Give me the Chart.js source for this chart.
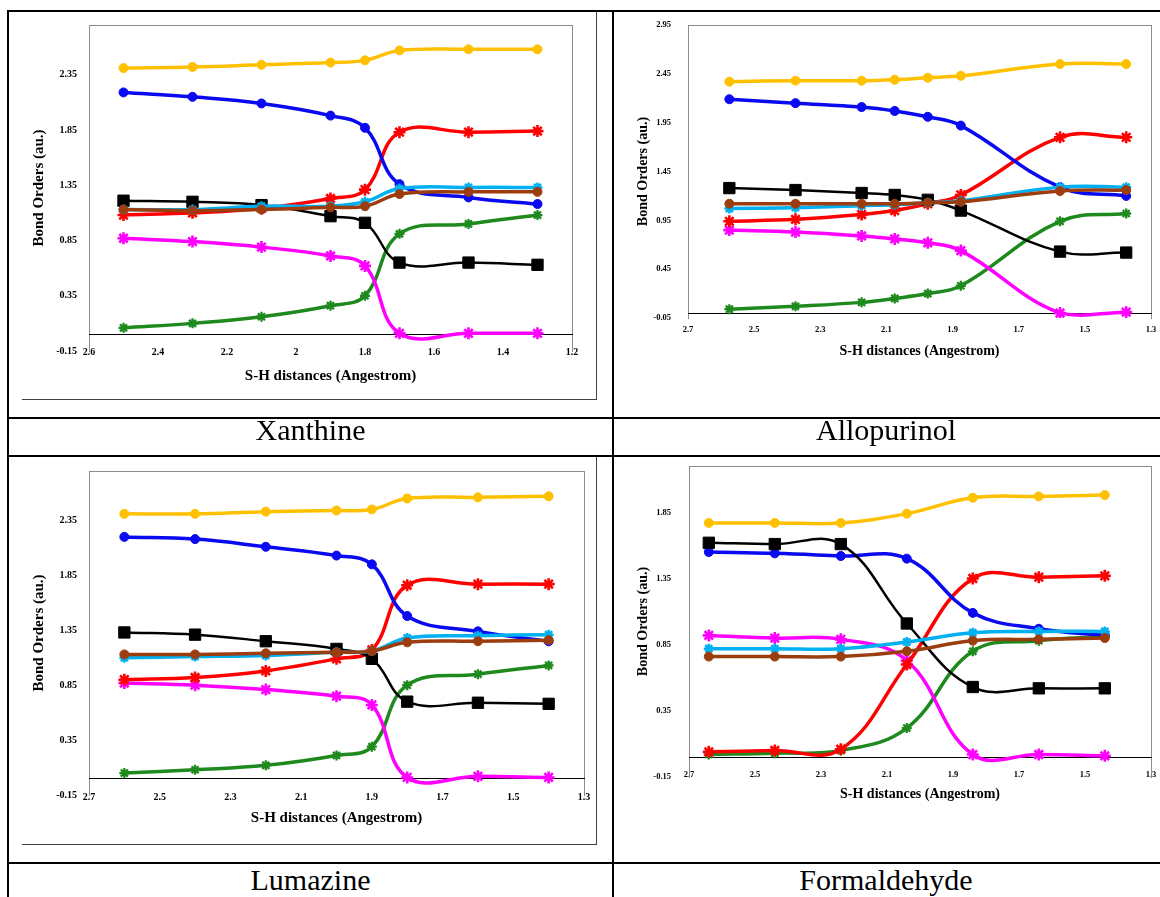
<!DOCTYPE html>
<html>
<head>
<meta charset="utf-8">
<script src="https://cdn.jsdelivr.net/npm/chart.js@4.4.1/dist/chart.umd.min.js"></script>
<style>
  html, body { margin: 0; padding: 0; background: #fff; }
  body { width: 1160px; height: 897px; position: relative; overflow: hidden;
         font-family: 'Liberation Serif', 'Times New Roman', serif; }
  .ln { position: absolute; background: #000; }
  .frame { position: absolute; background: #404040; }
  .cv { position: absolute; }
  .name { position: absolute; font-size: 30px; line-height: 30px; text-align: center;
          color: #000; white-space: nowrap; }
</style>
</head>
<body>
<!-- table rules -->
<div class="ln" style="left:7px;top:10px;width:1153px;height:2px"></div>
<div class="ln" style="left:7px;top:10px;width:2px;height:887px"></div>
<div class="ln" style="left:612px;top:10px;width:2px;height:887px"></div>
<div class="ln" style="left:7px;top:417px;width:1153px;height:2px"></div>
<div class="ln" style="left:7px;top:455px;width:1153px;height:2px"></div>
<div class="ln" style="left:7px;top:862px;width:1153px;height:2px"></div>

<!-- chart-area frames of the left column -->
<div class="frame" style="left:596px;top:12px;width:1px;height:388px"></div>
<div class="frame" style="left:22px;top:399px;width:575px;height:1px"></div>
<div class="frame" style="left:596px;top:457px;width:1px;height:388px"></div>
<div class="frame" style="left:22px;top:844px;width:575px;height:1px"></div>

<canvas id="c1" class="cv" width="601" height="403" style="left:9px;top:13px"></canvas>
<canvas id="c2" class="cv" width="542" height="403" style="left:614px;top:13px"></canvas>
<canvas id="c3" class="cv" width="601" height="403" style="left:9px;top:458px"></canvas>
<canvas id="c4" class="cv" width="542" height="403" style="left:614px;top:458px"></canvas>

<div class="name" style="left:9px;width:603px;top:415px">Xanthine</div>
<div class="name" style="left:614px;width:544px;top:415px">Allopurinol</div>
<div class="name" style="left:9px;width:603px;top:865px">Lumazine</div>
<div class="name" style="left:614px;width:544px;top:865px">Formaldehyde</div>

<script>
// ---- Xanthine ----
const xanX       = [2.5, 2.3, 2.1, 1.9, 1.8, 1.7, 1.5, 1.3];
const xanYellow  = [2.41, 2.42, 2.44, 2.46, 2.48, 2.57, 2.58, 2.58];
const xanBlue    = [2.19, 2.15, 2.09, 1.98, 1.87, 1.36, 1.24, 1.18];
const xanRed     = [1.08, 1.10, 1.14, 1.23, 1.31, 1.83, 1.83, 1.84];
const xanCyan    = [1.13, 1.13, 1.16, 1.16, 1.20, 1.32, 1.33, 1.33];
const xanBrown   = [1.13, 1.12, 1.13, 1.15, 1.16, 1.27, 1.29, 1.29];
const xanBlack   = [1.21, 1.20, 1.17, 1.07, 1.01, 0.65, 0.65, 0.63];
const xanMagenta = [0.87, 0.84, 0.79, 0.71, 0.62, 0.01, 0.01, 0.01];
const xanGreen   = [0.06, 0.10, 0.16, 0.26, 0.35, 0.91, 1.00, 1.08];
const xanXTicks  = [2.6, 2.4, 2.2, 2.0, 1.8, 1.6, 1.4, 1.2];
const xanXLabels = ['2.6', '2.4', '2.2', '2', '1.8', '1.6', '1.4', '1.2'];
const xanYTicks  = [-0.15, 0.35, 0.85, 1.35, 1.85, 2.35];

// ---- Allopurinol ----
const alloX       = [2.575, 2.375, 2.175, 2.075, 1.975, 1.875, 1.575, 1.375];
const alloYellow  = [2.37, 2.38, 2.38, 2.39, 2.41, 2.43, 2.55, 2.55];
const alloBlue    = [2.19, 2.15, 2.11, 2.07, 2.01, 1.92, 1.29, 1.20];
const alloRed     = [0.94, 0.96, 1.01, 1.05, 1.12, 1.21, 1.80, 1.80];
const alloCyan    = [1.07, 1.08, 1.10, 1.11, 1.13, 1.15, 1.29, 1.29];
const alloBrown   = [1.12, 1.12, 1.12, 1.12, 1.13, 1.14, 1.25, 1.26];
const alloBlack   = [1.28, 1.26, 1.23, 1.21, 1.16, 1.05, 0.63, 0.62];
const alloMagenta = [0.85, 0.83, 0.79, 0.76, 0.72, 0.64, 0.00, 0.01];
const alloGreen   = [0.04, 0.07, 0.11, 0.15, 0.20, 0.28, 0.94, 1.02];
const alloXTicks  = [2.7, 2.5, 2.3, 2.1, 1.9, 1.7, 1.5, 1.3];
const alloXLabels = ['2.7', '2.5', '2.3', '2.1', '1.9', '1.7', '1.5', '1.3'];
const alloYTicks  = [-0.05, 0.45, 0.95, 1.45, 1.95, 2.45, 2.95];

// ---- Lumazine ----
const lumX       = [2.6, 2.4, 2.2, 2.0, 1.9, 1.8, 1.6, 1.4];
const lumYellow  = [2.41, 2.41, 2.43, 2.44, 2.45, 2.55, 2.56, 2.57];
const lumBlue    = [2.20, 2.18, 2.11, 2.03, 1.95, 1.48, 1.34, 1.25];
const lumRed     = [0.90, 0.92, 0.98, 1.09, 1.17, 1.76, 1.77, 1.77];
const lumCyan    = [1.10, 1.11, 1.12, 1.15, 1.16, 1.28, 1.30, 1.31];
const lumBrown   = [1.13, 1.13, 1.14, 1.15, 1.16, 1.24, 1.25, 1.26];
const lumBlack   = [1.33, 1.31, 1.25, 1.18, 1.09, 0.70, 0.69, 0.68];
const lumMagenta = [0.87, 0.85, 0.81, 0.75, 0.67, 0.01, 0.02, 0.01];
const lumGreen   = [0.05, 0.08, 0.12, 0.21, 0.29, 0.85, 0.95, 1.03];
const lumXTicks  = [2.7, 2.5, 2.3, 2.1, 1.9, 1.7, 1.5, 1.3];
const lumXLabels = ['2.7', '2.5', '2.3', '2.1', '1.9', '1.7', '1.5', '1.3'];
const lumYTicks  = [-0.15, 0.35, 0.85, 1.35, 1.85, 2.35];

// ---- Formaldehyde ----
const formX       = [2.64, 2.44, 2.24, 2.04, 1.84, 1.64, 1.44];
const formYellow  = [1.77, 1.77, 1.77, 1.84, 1.96, 1.97, 1.98];
const formBlue    = [1.55, 1.54, 1.52, 1.50, 1.09, 0.97, 0.92];
const formRed     = [0.04, 0.05, 0.06, 0.70, 1.35, 1.36, 1.37];
const formCyan    = [0.82, 0.82, 0.82, 0.87, 0.94, 0.95, 0.95];
const formBrown   = [0.76, 0.76, 0.76, 0.80, 0.88, 0.89, 0.90];
const formBlack   = [1.62, 1.61, 1.61, 1.01, 0.53, 0.52, 0.52];
const formMagenta = [0.92, 0.90, 0.89, 0.73, 0.02, 0.02, 0.01];
const formGreen   = [0.02, 0.03, 0.05, 0.22, 0.80, 0.88, 0.91];
const formXTicks  = [2.7, 2.5, 2.3, 2.1, 1.9, 1.7, 1.5, 1.3];
const formXLabels = ['2.7', '2.5', '2.3', '2.1', '1.9', '1.7', '1.5', '1.3'];
const formYTicks  = [-0.15, 0.35, 0.85, 1.35, 1.85];

const FONT = "'Liberation Serif', 'Times New Roman', serif";

// line and marker look of each bond series
const STYLE = {
  brown:   { color: '#9C3D10', shape: 'circle', r: 4.5, bw: 1,   lw: 3.5 },
  cyan:    { color: '#00B0F0', shape: 'star',   r: 5,   bw: 2.5, lw: 3.5 },
  black:   { color: '#000000', shape: 'rect',   r: 8,   bw: 1,   lw: 2.5 },
  blue:    { color: '#0A0AF0', shape: 'circle', r: 4.5, bw: 1,   lw: 3.5 },
  red:     { color: '#FF0000', shape: 'star',   r: 6,   bw: 2.6, lw: 3.5 },
  magenta: { color: '#FF00FF', shape: 'star',   r: 6,   bw: 2.6, lw: 3.5 },
  green:   { color: '#1E8A1E', shape: 'star',   r: 5,   bw: 2.3, lw: 3.5 },
  yellow:  { color: '#FFC000', shape: 'circle', r: 4.5, bw: 1,   lw: 3.5 }
};
// first entry is drawn on top
const DRAW_ORDER = ['brown', 'cyan', 'black', 'blue', 'red', 'magenta', 'green', 'yellow'];

const panels = [
  { id: 'c1', xs: xanX,
    series: { yellow: xanYellow, blue: xanBlue, red: xanRed, cyan: xanCyan, brown: xanBrown,
              black: xanBlack, magenta: xanMagenta, green: xanGreen },
    xMin: 1.2, xMax: 2.6, yMin: -0.15, yMax: 2.8,
    xTicks: xanXTicks, xLabels: xanXLabels, yTicks: xanYTicks,
    geom: { pad: { top: 12, right: 38, bottom: 31, left: 0 }, yW: 80, xH: 34,
            yTickPad: 12, xTickPad: -5, yTitlePad: 21, tick: 10, title: 15 } },
  { id: 'c2', xs: alloX,
    series: { yellow: alloYellow, blue: alloBlue, red: alloRed, cyan: alloCyan, brown: alloBrown,
              black: alloBlack, magenta: alloMagenta, green: alloGreen },
    xMin: 1.3, xMax: 2.7, yMin: -0.05, yMax: 2.95,
    xTicks: alloXTicks, xLabels: alloXLabels, yTicks: alloYTicks,
    geom: { pad: { top: 12, right: 5, bottom: 56, left: 0 }, yW: 74, xH: 42,
            yTickPad: 17, xTickPad: 7, yTitlePad: 21, tick: 8.5, title: 14 } },
  { id: 'c3', xs: lumX,
    series: { yellow: lumYellow, blue: lumBlue, red: lumRed, cyan: lumCyan, brown: lumBrown,
              black: lumBlack, magenta: lumMagenta, green: lumGreen },
    xMin: 1.3, xMax: 2.7, yMin: -0.15, yMax: 2.8,
    xTicks: lumXTicks, xLabels: lumXLabels, yTicks: lumYTicks,
    geom: { pad: { top: 13, right: 26, bottom: 34, left: 0 }, yW: 80, xH: 32,
            yTickPad: 12, xTickPad: -4, yTitlePad: 21, tick: 10, title: 15 } },
  { id: 'c4', xs: formX,
    series: { yellow: formYellow, blue: formBlue, red: formRed, cyan: formCyan, brown: formBrown,
              black: formBlack, magenta: formMagenta, green: formGreen },
    xMin: 1.3, xMax: 2.7, yMin: -0.15, yMax: 2.2,
    xTicks: formXTicks, xLabels: formXLabels, yTicks: formYTicks,
    geom: { pad: { top: 8, right: 5, bottom: 58, left: 0 }, yW: 75, xH: 26,
            yTickPad: 18, xTickPad: -7, yTitlePad: 21, tick: 8.5, title: 14 } }
];

const PLOT_EDGE = '#8c8c8c';

function drawPanel(p) {
  const g = p.geom;
  const tickFont = { family: FONT, size: g.tick, weight: 'bold' };
  const titleFont = { family: FONT, size: g.title, weight: 'bold' };

  const datasets = DRAW_ORDER.map(k => {
    const s = STYLE[k];
    return {
      label: k,
      data: p.xs.map((x, i) => ({ x: x, y: p.series[k][i] })),
      showLine: true,
      tension: 0.4,
      fill: false,
      borderColor: s.color,
      backgroundColor: s.color,
      borderWidth: s.lw,
      pointStyle: s.shape,
      pointRadius: s.r,
      pointBorderWidth: s.bw,
      pointBackgroundColor: s.color,
      pointBorderColor: s.color
    };
  });

  const edgeAxis = (axis, position, size) => ({
    axis: axis, type: 'linear', position: position, display: true,
    ticks: { display: false },
    grid: { display: false, drawTicks: false },
    border: { display: true, color: PLOT_EDGE, width: 1 },
    afterFit: s => {
      if (axis === 'x') { s.height = size; } else { s.width = size; }
      s.paddingLeft = s.paddingRight = s.paddingTop = s.paddingBottom = 0;
    }
  });

  const xTickSetup = s => { s.ticks = p.xTicks.map(v => ({ value: v })); };

  new Chart(document.getElementById(p.id), {
    type: 'scatter',
    data: { datasets: datasets },
    options: {
      responsive: false,
      animation: false,
      devicePixelRatio: 1,
      layout: { padding: g.pad, autoPadding: false },
      plugins: { legend: { display: false }, tooltip: { enabled: false } },
      events: [],
      scales: {
        // value axis of the distances; carries the axis title
        x: {
          type: 'linear', position: 'bottom', reverse: true,
          min: p.xMin, max: p.xMax,
          afterBuildTicks: xTickSetup,
          afterFit: s => { s.height = g.xH; s.paddingLeft = 0; s.paddingRight = 0; },
          ticks: { display: false },
          grid: { display: false, drawTicks: false },
          border: { display: false },
          title: { display: true, text: 'S-H distances (Angestrom)', font: titleFont,
                   color: '#000', padding: 0 }
        },
        // distance labels hung from the bottom of the value range
        xLab: {
          axis: 'x', type: 'linear', position: { y: p.yMin }, display: true, reverse: true,
          min: p.xMin, max: p.xMax,
          afterBuildTicks: xTickSetup,
          afterFit: s => { s.height = 0; s.paddingLeft = 0; s.paddingRight = 0; },
          ticks: { font: tickFont, color: '#000', padding: g.xTickPad, maxRotation: 0,
                   autoSkip: false, callback: (v, i) => p.xLabels[i] },
          grid: { display: false, drawTicks: false },
          border: { display: false }
        },
        y: {
          type: 'linear', position: 'left',
          min: p.yMin, max: p.yMax,
          afterBuildTicks: s => { s.ticks = p.yTicks.map(v => ({ value: v })); },
          afterFit: s => { s.width = g.yW; s.paddingTop = 0; s.paddingBottom = 0; },
          ticks: { font: tickFont, color: '#000', padding: g.yTickPad, autoSkip: false,
                   callback: v => v.toFixed(2) },
          grid: { display: false, drawTicks: false },
          border: { display: true, color: PLOT_EDGE, width: 1 },
          title: { display: true, text: 'Bond Orders (au.)', font: titleFont, color: '#000',
                   padding: { top: g.yTitlePad, bottom: 0 } }
        },
        xTop: edgeAxis('x', 'top', 0),
        yRight: edgeAxis('y', 'right', 0),
        // horizontal axis line crossing at zero bond order
        xZero: {
          axis: 'x', type: 'linear', position: { y: 0 }, display: true,
          min: p.xMin, max: p.xMax,
          ticks: { display: false },
          grid: { display: false, drawTicks: false },
          border: { display: true, color: '#000', width: 1 },
          afterFit: s => { s.height = 0; }
        }
      }
    }
  });
}

panels.forEach(drawPanel);
</script>
</body>
</html>
